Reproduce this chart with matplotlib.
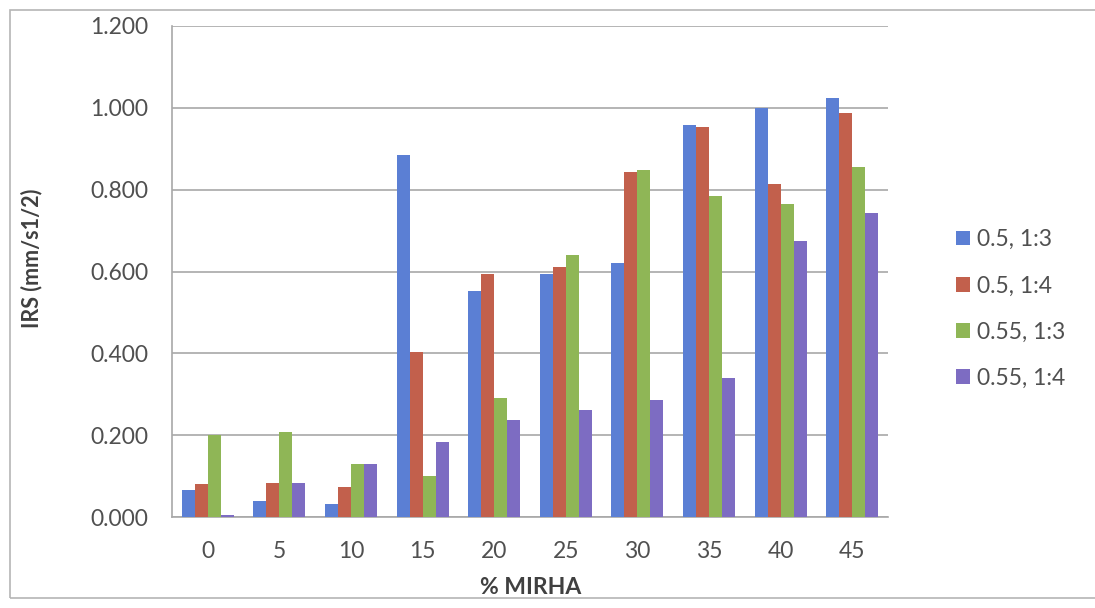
import matplotlib
matplotlib.use("Agg")
import matplotlib.pyplot as plt
from matplotlib.patches import Rectangle
import numpy as np

plt.rcParams['font.family'] = ['Lato', 'DejaVu Sans']

# % MIRHA replacement levels
categories = ["0", "5", "10", "15", "20", "25", "30", "35", "40", "45"]

# Initial rate of suction, IRS (mm/s1/2)
s_050_13 = [0.066, 0.040, 0.031, 0.885, 0.552, 0.595, 0.620, 0.958, 1.000, 1.024]
s_050_14 = [0.081, 0.083, 0.073, 0.404, 0.595, 0.611, 0.844, 0.953, 0.814, 0.987]
s_055_13 = [0.200, 0.208, 0.129, 0.100, 0.292, 0.640, 0.849, 0.785, 0.765, 0.855]
s_055_14 = [0.006, 0.083, 0.129, 0.183, 0.238, 0.262, 0.287, 0.340, 0.674, 0.743]

series_labels = ["0.5, 1:3", "0.5, 1:4", "0.55, 1:3", "0.55, 1:4"]
series_values = [s_050_13, s_050_14, s_055_13, s_055_14]
colors = ["#5B7FD4", "#C2604C", "#8FB656", "#7D6CC2"]

W, H = 1095, 608
fig = plt.figure(figsize=(W / 100, H / 100), dpi=100)
fig.patch.set_facecolor("white")

# outer chart border
fig.patches.append(Rectangle((10 / W, 1 - 598 / H), (W - 10) / W + 0.01, (598 - 10) / H,
                             transform=fig.transFigure, fill=False,
                             edgecolor="#b5b5b5", linewidth=1.2))

ax = fig.add_axes([172 / W, 1 - 517 / H, (888 - 172) / W, (517 - 26) / H])

x = np.arange(len(categories))
bw = 1 / 5.5
for i, (vals, lab, col) in enumerate(zip(series_values, series_labels, colors)):
    ax.bar(x + (i - 1.5) * bw, vals, width=bw, color=col, label=lab, zorder=3)

ax.set_xlim(-0.5, len(categories) - 0.5)
ax.set_ylim(0, 1.2)
ax.set_yticks(np.arange(0, 1.201, 0.2))
ax.set_yticklabels([f"{v:.3f}" for v in np.arange(0, 1.201, 0.2)])
ax.set_xticks(x)
ax.set_xticklabels(categories)

ax.grid(axis="y", color="#a8a8a8", linewidth=1.2, zorder=0)
ax.set_axisbelow(True)
for s in ["top", "right"]:
    ax.spines[s].set_visible(False)
for s in ["left", "bottom"]:
    ax.spines[s].set_color("#a8a8a8")
    ax.spines[s].set_linewidth(1.2)

tick_color = "#505050"
ax.tick_params(axis="y", length=0, pad=17, labelsize=16.5, labelcolor=tick_color)
ax.tick_params(axis="x", length=0, pad=17, labelsize=16.5, labelcolor=tick_color)

fig.text(531 / W, 1 - 588 / H, "% MIRHA", ha="center", va="center",
         fontsize=16.5, fontweight="bold", color="#404040")
fig.text(32 / W, 1 - 258 / H, "IRS (mm/s1/2)", ha="center", va="center",
         rotation=90, fontsize=15.5, fontweight="bold", color="#404040")

fig.legend(loc="center left", bbox_to_anchor=(956 / W, 1 - 309 / H),
           frameon=False, fontsize=16.5, labelcolor=tick_color,
           handlelength=0.6, handleheight=0.6, handletextpad=0.3,
           labelspacing=1.1, borderaxespad=0, borderpad=0)

fig.savefig("out.png", dpi=100, facecolor="white")
